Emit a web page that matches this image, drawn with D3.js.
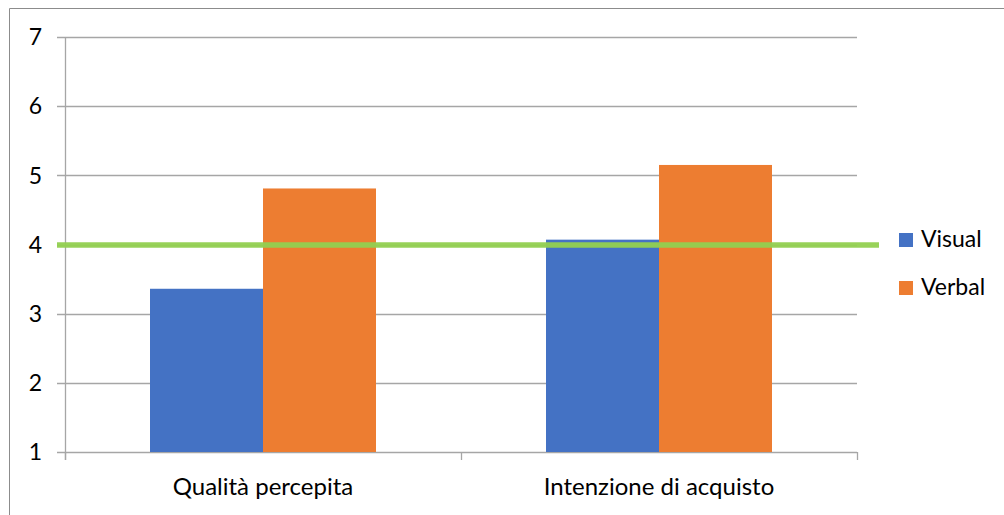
<!DOCTYPE html>
<html>
<head>
<meta charset="utf-8">
<script src="https://cdn.jsdelivr.net/npm/d3@7"></script>
<style>
  html, body { margin: 0; padding: 0; background: #fff; }
  svg { display: block; font-family: Lato, "Open Sans", sans-serif; }
</style>
</head>
<body>
<div id="chart"></div>
<script>
const categories = ['Qualità percepita', 'Intenzione di acquisto'];
const seriesNames = ['Visual', 'Verbal'];
const visualValues = [3.36, 4.07];
const verbalValues = [4.81, 5.15];
const yTicks = [1, 2, 3, 4, 5, 6, 7];
const referenceValue = 4;

const colors = { Visual: '#4472C4', Verbal: '#ED7D31' };

const width = 1004, height = 515;
const margin = { left: 65, right: 147, top: 37, bottom: 63 };

const svg = d3.select('#chart').append('svg')
  .attr('width', width)
  .attr('height', height);

// chart border (only top and left visible in the picture)
svg.append('path')
  .attr('d', `M9.5,${height} V8.5 H${width}`)
  .attr('fill', 'none')
  .attr('stroke', '#8c8c8c')
  .attr('stroke-width', 1);

const x0 = d3.scaleBand()
  .domain(categories)
  .range([margin.left, width - margin.right])
  .paddingInner(0.4293)
  .paddingOuter(0.4293 / 2);

const x1 = d3.scaleBand()
  .domain(seriesNames)
  .range([0, x0.bandwidth()]);

const y = d3.scaleLinear()
  .domain([1, 7])
  .range([height - margin.bottom, margin.top]);

const rows = categories.map((c, i) => ({ category: c, Visual: visualValues[i], Verbal: verbalValues[i] }));

// gridlines + y ticks
const grid = svg.append('g').attr('class', 'grid');
grid.selectAll('line')
  .data(yTicks)
  .join('line')
  .attr('x1', margin.left - 8)
  .attr('x2', width - margin.right)
  .attr('y1', d => Math.round(y(d)) + 0.5)
  .attr('y2', d => Math.round(y(d)) + 0.5)
  .attr('stroke', '#a6a6a6')
  .attr('stroke-width', 1.3);

grid.selectAll('text')
  .data(yTicks)
  .join('text')
  .attr('x', 42)
  .attr('y', d => y(d))
  .attr('dy', '0.36em')
  .attr('text-anchor', 'end')
  .attr('font-size', 23)
  .attr('fill', '#000')
  .text(d => d);

// y axis line
svg.append('line')
  .attr('x1', margin.left + 0.5).attr('x2', margin.left + 0.5)
  .attr('y1', y(7)).attr('y2', y(1) + 8)
  .attr('stroke', '#a6a6a6')
  .attr('stroke-width', 1.3);

// x axis category boundary ticks
const bounds = [margin.left, margin.left + x0.step(), width - margin.right];
svg.append('g').selectAll('line')
  .data(bounds)
  .join('line')
  .attr('x1', d => d + 0.5).attr('x2', d => d + 0.5)
  .attr('y1', y(1)).attr('y2', y(1) + 8)
  .attr('stroke', '#a6a6a6')
  .attr('stroke-width', 1.3);

// bars
const groups = svg.append('g').selectAll('g')
  .data(rows)
  .join('g')
  .attr('transform', d => `translate(${x0(d.category)},0)`);

groups.selectAll('rect')
  .data(d => seriesNames.map(s => ({ key: s, value: d[s] })))
  .join('rect')
  .attr('x', d => x1(d.key))
  .attr('y', d => y(d.value))
  .attr('width', x1.bandwidth())
  .attr('height', d => y(1) - y(d.value))
  .attr('fill', d => colors[d.key]);

// category labels
svg.append('g').selectAll('text')
  .data(categories)
  .join('text')
  .attr('x', d => x0(d) + x0.bandwidth() / 2)
  .attr('y', 495)
  .attr('text-anchor', 'middle')
  .attr('font-size', 24)
  .attr('fill', '#000')
  .text(d => d);

// green reference line at 4
svg.append('line')
  .attr('x1', 57).attr('x2', 879)
  .attr('y1', y(referenceValue) + 0.5).attr('y2', y(referenceValue) + 0.5)
  .attr('stroke', '#92D050')
  .attr('stroke-width', 5.5)
  .attr('stroke-opacity', 0.95);

// legend
const legend = svg.append('g').attr('transform', 'translate(899,233)');
const item = legend.selectAll('g')
  .data(seriesNames)
  .join('g')
  .attr('transform', (d, i) => `translate(0,${i * 48})`);

item.append('rect')
  .attr('width', 14).attr('height', 14)
  .attr('fill', d => colors[d]);

item.append('text')
  .attr('x', 22)
  .attr('y', 14)
  .attr('font-size', 23)
  .attr('fill', '#000')
  .text(d => d);
</script>
</body>
</html>
